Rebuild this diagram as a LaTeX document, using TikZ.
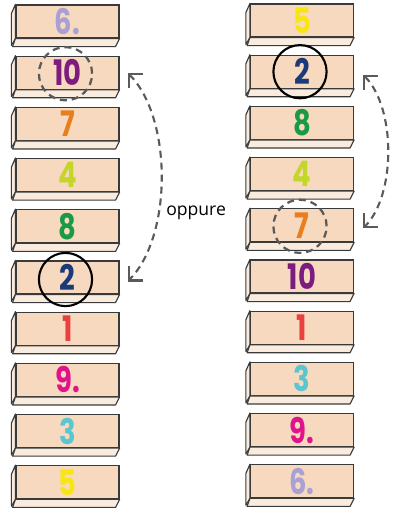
\documentclass[tikz,border=0pt]{standalone}
\usepackage{fontspec}
\setmainfont{Open Sans}
\newfontfamily\digitfont{Poppins}[FakeStretch=0.78]
\usepackage{xcolor}
\usetikzlibrary{arrows.meta,calc}

\definecolor{blockfront}{HTML}{F6D9BE}
\definecolor{blockbottom}{HTML}{F9ECDF}
\definecolor{edgegray}{HTML}{3A3A3A}
\definecolor{dashgray}{HTML}{5A5A5A}
\definecolor{lavender}{HTML}{A9A0D4}
\definecolor{plum}{HTML}{7B1C7E}
\definecolor{tangerine}{HTML}{E97E1E}
\definecolor{lime}{HTML}{C4D62A}
\definecolor{leaf}{HTML}{1A9A45}
\definecolor{navy}{HTML}{1B3A7A}
\definecolor{coral}{HTML}{E8413F}
\definecolor{magenta}{HTML}{E0148A}
\definecolor{aqua}{HTML}{5BC5D0}
\definecolor{sun}{HTML}{F7E60F}

\begin{document}
\begin{tikzpicture}[
    x=0.025cm, y=-0.025cm,
    front/.style={rectangle, draw=edgegray, line width=0.8pt, fill=blockfront, inner sep=0pt, minimum width=2.575cm, minimum height=0.825cm, font=\digitfont\bfseries\fontsize{25}{25}\selectfont},
    face/.style={draw=edgegray, line width=0.8pt, fill=blockbottom, line join=round},
    ring/.style={circle, draw=black, line width=1.5pt, minimum size=1.33cm, inner sep=0pt},
    dashring/.style={circle, draw=dashgray, line width=1.6pt, dash pattern=on 5pt off 3.5pt, minimum size=1.33cm, inner sep=0pt},
    swaparrow/.style={{Straight Barb[length=2.5mm,width=5mm]}-{Straight Barb[length=2.5mm,width=5mm]}, draw=dashgray, line width=1.5pt, dash pattern=on 5pt off 3.5pt}
]
\useasboundingbox (0,0) rectangle (400,508);

% left column
\foreach \lbl/\col [count=\i] in {6./lavender, 10/plum, 7/tangerine, 4/lime, 8/leaf, 2/navy, 1/coral, 9./magenta, 3/aqua, 5/sun} {
  \node[front, text=\col] (L\i) at (67.5, {21.5+(\i-1)*51.2}) {\lbl};
  \draw[face] (L\i.north west) -- ++(-4,9) -- ++(0,32) -- (L\i.south west) -- cycle;
  \draw[face] (L\i.south west) -- (L\i.south east) -- ++(-4,8) -- ++(-103,0) -- cycle;
}

% right column
\foreach \lbl/\col [count=\i] in {5/sun, 2/navy, 8/leaf, 4/lime, 7/tangerine, 10/plum, 1/coral, 3/aqua, 9./magenta, 6./lavender} {
  \node[front, text=\col] (R\i) at (302, {20.5+(\i-1)*51.2}) {\lbl};
  \draw[face] (R\i.north west) -- ++(-4,9) -- ++(0,32) -- (R\i.south west) -- cycle;
  \draw[face] (R\i.south west) -- (R\i.south east) -- ++(-4,8) -- ++(-103,0) -- cycle;
}

% circles
\node[dashring] (cL2) at ($(L2)+(-2,1)$) {};
\node[ring] (cL6) at ($(L6)+(-2,2)$) {};
\node[ring] (cR2) at ($(R2)+(-2,0)$) {};
\node[dashring] (cR5) at ($(R5)+(-2,1)$) {};

% swap arrows
\coordinate (lt) at ($(L2.east)+(8,0)$);
\coordinate (lb) at ($(L6.east)+(8,4)$);
\coordinate (rt) at ($(R2.east)+(9,3)$);
\coordinate (rb) at ($(R5.east)+(9,3)$);
\draw[swaparrow] (lt) .. controls +(45,45) and +(45,-45) .. (lb);
\draw[swaparrow] (rt) .. controls +(33,33) and +(33,-33) .. (rb);

\node[anchor=west, inner sep=0pt, font=\fontsize{12.5}{14}\selectfont] (alt) at (166,213) {oppure};
\end{tikzpicture}
\end{document}
